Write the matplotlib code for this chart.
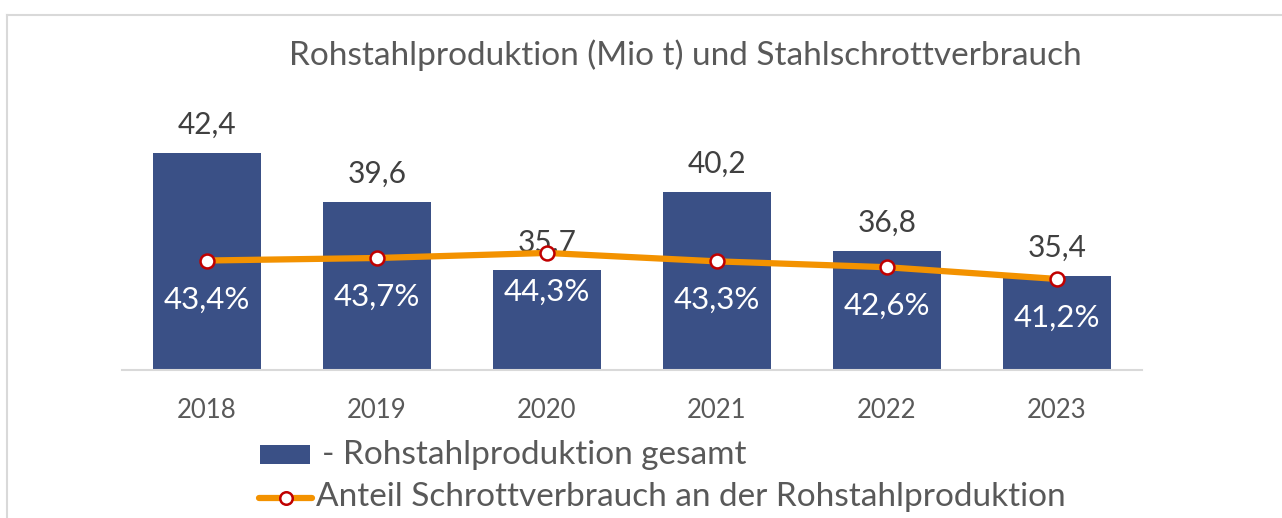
import matplotlib

matplotlib.use("Agg")

import matplotlib.pyplot as plt
from matplotlib.lines import Line2D
from matplotlib.patches import Rectangle


YEARS = ["2018", "2019", "2020", "2021", "2022", "2023"]
PRODUCTION = [42.4, 39.6, 35.7, 40.2, 36.8, 35.4]
SCRAP_SHARE = [43.4, 43.7, 44.3, 43.3, 42.6, 41.2]
TITLE = "Rohstahlproduktion (Mio t) und Stahlschrottverbrauch"
BAR_LABEL = "- Rohstahlproduktion gesamt"
LINE_LABEL = "Anteil Schrottverbrauch an der Rohstahlproduktion"

BAR_COLOR = "#3A5086"
LINE_COLOR = "#F39200"
MARKER_EDGE = "#C00000"
TEXT_COLOR = "#595959"
FONT = ["Lato", "DejaVu Sans"]


def fmt(value, suffix=""):
    return f"{value:.1f}".replace(".", ",") + suffix


def main():
    plt.rcParams["font.family"] = FONT
    fig = plt.figure(figsize=(12.82, 5.18), dpi=100)
    W, H = 1282, 518

    # frame around the chart (only top and left visible in the crop)
    fig.add_artist(Line2D([7 / W, 7 / W], [0, 1 - 15 / H], transform=fig.transFigure,
                          color="#D9D9D9", linewidth=1.5))
    fig.add_artist(Line2D([7 / W, 1], [1 - 15 / H, 1 - 15 / H], transform=fig.transFigure,
                          color="#D9D9D9", linewidth=1.5))

    left, right, base, top = 122, 1142, 370, 90
    ax = fig.add_axes([left / W, 1 - base / H, (right - left) / W, (base - top) / H])
    x = list(range(len(YEARS)))
    ax.bar(x, PRODUCTION, width=0.63, color=BAR_COLOR, zorder=2)
    ax.set_xlim(-0.5, len(YEARS) - 0.5)
    ax.set_ylim(30.0, 46.0)
    ax.set_yticks([])
    for side in ("left", "right", "top"):
        ax.spines[side].set_visible(False)
    ax.spines["bottom"].set_color("#D9D9D9")
    ax.spines["bottom"].set_linewidth(1.5)
    ax.set_xticks(x)
    ax.set_xticklabels(YEARS, fontsize=18.5, color=TEXT_COLOR)
    ax.tick_params(axis="x", length=0, pad=20)
    for xi, val in zip(x, PRODUCTION):
        ax.annotate(fmt(val), (xi, val), xytext=(0, 10), textcoords="offset points",
                    ha="center", va="bottom", fontsize=21.5, color="#404040", zorder=1)

    ax2 = ax.twinx()
    ax2.set_ylim(30.35, 30.35 + 280 / 8.39)
    ax2.set_yticks([])
    for side in ("left", "right", "top", "bottom"):
        ax2.spines[side].set_visible(False)
    ax2.plot(x, SCRAP_SHARE, color=LINE_COLOR, linewidth=4.5, marker="o", markersize=10,
             markerfacecolor="white", markeredgecolor=MARKER_EDGE, markeredgewidth=1.8,
             solid_capstyle="butt", zorder=3)
    for xi, val in zip(x, SCRAP_SHARE):
        ax2.annotate(fmt(val, "%"), (xi, val), xytext=(0, -28), textcoords="offset points",
                     ha="center", va="center", fontsize=22.5, color="white")

    fig.text(685 / W, 1 - 55 / H, TITLE, ha="center", va="center", fontsize=24,
             color=TEXT_COLOR)

    # legend, drawn by hand to mimic the stacked layout
    fig.add_artist(Rectangle((260 / W, 1 - 464 / H), 50 / W, 19 / H, transform=fig.transFigure,
                             facecolor=BAR_COLOR, edgecolor="none"))
    fig.text(322 / W, 1 - 455 / H, BAR_LABEL, ha="left", va="center", fontsize=24,
             color=TEXT_COLOR)
    fig.add_artist(Line2D([259 / W, 312 / W], [1 - 498 / H, 1 - 498 / H], transform=fig.transFigure,
                          color=LINE_COLOR, linewidth=4.5, solid_capstyle="round"))
    fig.add_artist(Line2D([285.5 / W], [1 - 498 / H], transform=fig.transFigure, marker="o",
                          markersize=9, markerfacecolor="white", markeredgecolor=MARKER_EDGE,
                          markeredgewidth=1.8, linestyle="none"))
    fig.text(316 / W, 1 - 497 / H, LINE_LABEL, ha="left", va="center", fontsize=24,
             color=TEXT_COLOR)

    fig.savefig("out.png", dpi=100)
    plt.close(fig)


if __name__ == "__main__":
    main()
